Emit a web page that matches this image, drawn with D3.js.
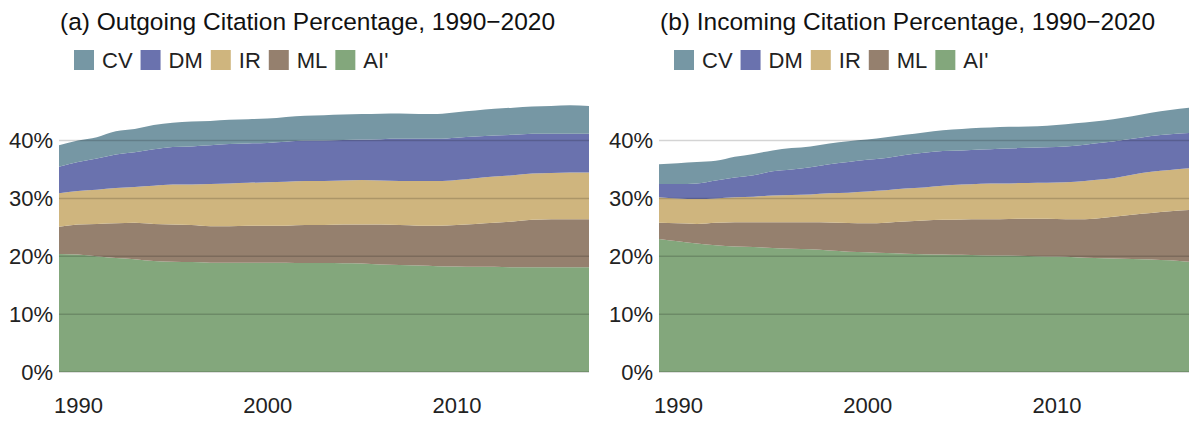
<!DOCTYPE html>
<html>
<head>
<meta charset="utf-8">
<script src="https://cdn.jsdelivr.net/npm/d3@7.9.0/dist/d3.min.js"></script>
<style>
  body { margin: 0; background: #fff; }
  svg { font-family: "Liberation Sans", Arial, sans-serif; }
</style>
</head>
<body>
<script>
// years on the x axis
const years = d3.range(1989, 2018);

// (a) outgoing citation share per field, %
const outAI = [20.4, 20.3, 20.0, 19.7, 19.5, 19.2, 19.05, 19.0, 18.9, 18.9, 18.9, 18.9, 18.9, 18.85, 18.85,
  18.8, 18.75, 18.6, 18.5, 18.4, 18.3, 18.25, 18.2, 18.2, 18.1, 18.1, 18.1, 18.1, 18.1];
const outML = [4.7, 5.2, 5.6, 6.0, 6.3, 6.4, 6.45, 6.4, 6.3, 6.3, 6.4, 6.4, 6.4, 6.55, 6.55,
  6.7, 6.75, 6.9, 6.9, 6.9, 7.0, 7.15, 7.4, 7.6, 7.9, 8.2, 8.3, 8.3, 8.3];
const outIR = [5.8, 5.8, 5.9, 6.1, 6.2, 6.6, 6.9, 7.0, 7.3, 7.4, 7.4, 7.5, 7.6, 7.6, 7.6,
  7.6, 7.7, 7.6, 7.6, 7.7, 7.7, 7.8, 7.9, 8.0, 8.0, 8.0, 8.0, 8.1, 8.1];
const outDM = [4.6, 5.0, 5.4, 5.8, 6.0, 6.3, 6.5, 6.6, 6.7, 6.8, 6.8, 6.8, 6.9, 7.0, 7.0,
  7.0, 7.0, 7.15, 7.3, 7.3, 7.3, 7.3, 7.2, 7.1, 7.0, 6.9, 6.8, 6.7, 6.7];
const outCV = [3.7, 3.7, 3.7, 4.0, 4.0, 4.2, 4.2, 4.3, 4.2, 4.2, 4.2, 4.2, 4.3, 4.3, 4.4,
  4.4, 4.4, 4.4, 4.4, 4.3, 4.3, 4.4, 4.5, 4.6, 4.7, 4.7, 4.8, 4.9, 4.8];

// (b) incoming citation share per field, %
const inAI = [23.0, 22.6, 22.2, 21.9, 21.7, 21.6, 21.45, 21.3, 21.2, 21.0, 20.8, 20.7, 20.55, 20.45, 20.35,
  20.3, 20.25, 20.2, 20.15, 20.1, 20.0, 19.95, 19.85, 19.7, 19.6, 19.55, 19.45, 19.3, 19.05];
const inML = [2.8, 3.1, 3.4, 3.9, 4.2, 4.3, 4.45, 4.6, 4.7, 4.85, 4.95, 5.0, 5.25, 5.55, 5.85,
  6.0, 6.1, 6.2, 6.25, 6.4, 6.5, 6.5, 6.55, 6.8, 7.25, 7.65, 8.05, 8.5, 8.95];
const inIR = [4.4, 4.3, 4.3, 4.2, 4.3, 4.4, 4.6, 4.7, 4.8, 5.05, 5.25, 5.5, 5.6, 5.7, 5.7,
  5.9, 6.05, 6.15, 6.2, 6.15, 6.2, 6.3, 6.5, 6.7, 6.65, 6.9, 7.1, 7.1, 7.2];
const inDM = [2.3, 2.5, 2.7, 3.1, 3.4, 3.7, 4.2, 4.4, 4.7, 5.0, 5.3, 5.5, 5.6, 5.8, 6.0,
  6.0, 5.9, 5.9, 6.0, 6.05, 6.1, 6.15, 6.2, 6.3, 6.35, 6.2, 6.2, 6.2, 6.1];
const inCV = [3.4, 3.6, 3.7, 3.4, 3.6, 3.7, 3.6, 3.7, 3.6, 3.6, 3.6, 3.5, 3.6, 3.5, 3.5,
  3.6, 3.7, 3.75, 3.75, 3.7, 3.7, 3.8, 3.9, 3.8, 3.85, 3.9, 4.0, 4.2, 4.4];

const fields = ["AI'", "ML", "IR", "DM", "CV"];   // stack order, bottom to top
const legendOrder = ["CV", "DM", "IR", "ML", "AI'"];
const yTicks = [0, 10, 20, 30, 40];
const xTicks = [1990, 2000, 2010];

const colors = {
  "CV": "#7697a4",
  "DM": "#6a72ae",
  "IR": "#cfb57e",
  "ML": "#95806e",
  "AI'": "#83a77c"
};

const W = 1190, H = 421;
const svg = d3.select('body').append('svg')
  .attr('width', W)
  .attr('height', H);

const plotW = 530;
const y = d3.scaleLinear().domain([0, 50]).range([372, 372 - 5.785 * 50]);

function drawPanel(left, title, series) {
  const g = svg.append('g').attr('transform', `translate(${left},0)`);
  const x = d3.scaleLinear().domain(d3.extent(years)).range([59, 59 + plotW]);

  const rows = years.map((yr, i) => {
    const r = { year: yr };
    fields.forEach((f, k) => r[f] = series[k][i]);
    return r;
  });
  const stacked = d3.stack().keys(fields)(rows);

  const area = d3.area()
    .x(d => x(d.data.year))
    .y0(d => y(d[0]))
    .y1(d => y(d[1]))
    .curve(d3.curveMonotoneX);

  g.selectAll('path.layer')
    .data(stacked)
    .join('path')
    .attr('class', 'layer')
    .attr('d', area)
    .attr('fill', d => colors[d.key]);

  // grid on top of the areas
  g.append('g')
    .selectAll('line')
    .data(yTicks)
    .join('line')
    .attr('x1', 59)
    .attr('x2', 59 + plotW)
    .attr('y1', d => y(d))
    .attr('y2', d => y(d))
    .attr('stroke', 'rgba(0,0,0,0.17)')
    .attr('stroke-width', 1.5);

  // y axis
  const yAxis = g.append('g')
    .attr('transform', 'translate(59,0)')
    .call(d3.axisLeft(y).tickValues(yTicks).tickFormat(d => d + '%').tickSize(0).tickPadding(6));
  yAxis.select('.domain').remove();
  yAxis.selectAll('text')
    .attr('font-size', 22)
    .attr('fill', '#222')
    .attr('font-family', '"Liberation Sans", Arial, sans-serif');

  // x axis
  const xAxis = g.append('g')
    .attr('transform', 'translate(0,380)')
    .call(d3.axisBottom(x).tickValues(xTicks).tickFormat(d3.format('d')).tickSize(0).tickPadding(0));
  xAxis.select('.domain').remove();
  xAxis.selectAll('text')
    .attr('dy', null)
    .attr('y', 33)
    .attr('font-size', 22)
    .attr('fill', '#222')
    .attr('font-family', '"Liberation Sans", Arial, sans-serif');

  // title
  g.append('text')
    .attr('x', 60)
    .attr('y', 30)
    .attr('font-size', 24.5)
    .attr('fill', '#111')
    .text(title);

  // legend
  let lx = 74;
  legendOrder.forEach(k => {
    g.append('rect')
      .attr('x', lx)
      .attr('y', 50)
      .attr('width', 20)
      .attr('height', 20)
      .attr('fill', colors[k]);
    const t = g.append('text')
      .attr('x', lx + 28)
      .attr('y', 68)
      .attr('font-size', 22)
      .attr('fill', '#222')
      .text(k);
    lx += 28 + t.node().getComputedTextLength() + 8;
  });
}

drawPanel(0, '(a) Outgoing Citation Percentage, 1990\u22122020', [outAI, outML, outIR, outDM, outCV]);
drawPanel(600, '(b) Incoming Citation Percentage, 1990\u22122020', [inAI, inML, inIR, inDM, inCV]);
</script>
</body>
</html>
